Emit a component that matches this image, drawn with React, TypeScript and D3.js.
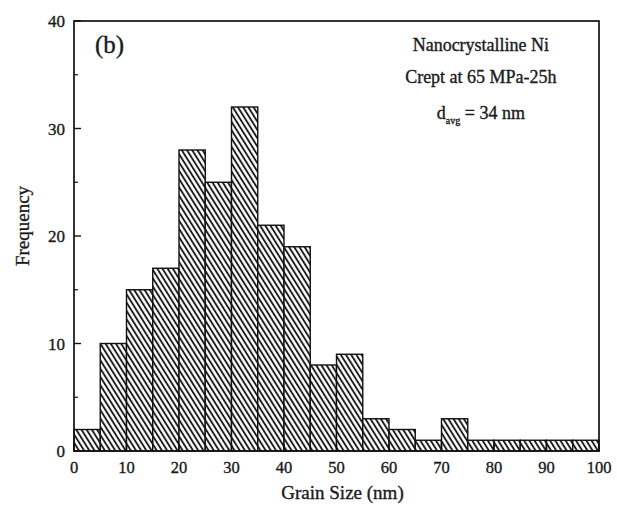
import { useEffect, useRef } from 'react';
import * as d3 from 'd3';

// bin edges (nm) and counts
const binStarts = [0, 5, 10, 15, 20, 25, 30, 35, 40, 45, 50, 55, 60, 65, 70, 75, 80, 85, 90, 95];
const counts = [2, 10, 15, 17, 28, 25, 32, 21, 19, 8, 9, 3, 2, 1, 3, 1, 1, 1, 1, 1];
const binWidth = 5;
const xTicks = [0, 10, 20, 30, 40, 50, 60, 70, 80, 90, 100];
const yTicks = [0, 10, 20, 30, 40];
const yMinor = [5, 15, 25, 35];
const annotation = ['Nanocrystalline Ni', 'Crept at 65 MPa-25h'];

const W = 617;
const H = 508;
const FONT = "'Liberation Serif', 'DejaVu Serif', serif";
const INK = '#1a1a1a';

export default function App() {
    const svgRef = useRef<SVGSVGElement | null>(null);

    useEffect(() => {
        if (!svgRef.current) return;
        const svg = d3.select(svgRef.current);
        svg.selectAll('*').remove();

        const margin = { top: 21, right: 18, bottom: 57, left: 74 };
        const w = W - margin.left - margin.right;
        const h = H - margin.top - margin.bottom;

        const x = d3.scaleLinear().domain([0, 100]).range([0, w]);
        const y = d3.scaleLinear().domain([0, 40]).range([h, 0]);

        // hatch fill
        const defs = svg.append('defs');
        const pat = defs.append('pattern')
            .attr('id', 'hatch')
            .attr('patternUnits', 'userSpaceOnUse')
            .attr('width', 4.4).attr('height', 10)
            .attr('patternTransform', 'rotate(-32)');
        pat.append('rect').attr('width', 4.4).attr('height', 10).attr('fill', '#fff');
        pat.append('line')
            .attr('x1', 1).attr('y1', 0).attr('x2', 1).attr('y2', 10)
            .attr('stroke', '#111').attr('stroke-width', 1.8);

        const g = svg.append('g').attr('transform', `translate(${margin.left},${margin.top})`);

        // bars
        g.selectAll('rect.bar')
            .data(binStarts.map((s, i) => ({ s, c: counts[i] })))
            .join('rect')
            .attr('class', 'bar')
            .attr('x', d => x(d.s))
            .attr('y', d => y(d.c))
            .attr('width', d => x(d.s + binWidth) - x(d.s))
            .attr('height', d => y(0) - y(d.c))
            .attr('fill', 'url(#hatch)')
            .attr('stroke', '#111')
            .attr('stroke-width', 1.4);

        // frame
        g.append('rect')
            .attr('width', w).attr('height', h)
            .attr('fill', 'none').attr('stroke', '#111').attr('stroke-width', 1.7);

        const txt = (sel: any, size: number) => sel
            .style('font-family', FONT).style('font-size', `${size}px`)
            .style('fill', INK).style('stroke', INK).style('stroke-width', '0.35px');

        // y ticks (inward)
        g.selectAll('line.ymaj').data(yTicks).join('line')
            .attr('class', 'ymaj')
            .attr('x1', 0).attr('x2', 7)
            .attr('y1', d => y(d)).attr('y2', d => y(d))
            .attr('stroke', '#111').attr('stroke-width', 1.4);
        g.selectAll('line.ymin').data(yMinor).join('line')
            .attr('class', 'ymin')
            .attr('x1', 0).attr('x2', 4)
            .attr('y1', d => y(d)).attr('y2', d => y(d))
            .attr('stroke', '#111').attr('stroke-width', 1.2);
        txt(g.selectAll('text.ylab').data(yTicks).join('text')
            .attr('class', 'ylab')
            .attr('x', -9).attr('y', d => y(d) + 6)
            .attr('text-anchor', 'end'), 17)
            .text(d => d);

        // x ticks
        g.selectAll('line.xmaj').data(xTicks).join('line')
            .attr('class', 'xmaj')
            .attr('x1', d => x(d)).attr('x2', d => x(d))
            .attr('y1', h).attr('y2', h - 7)
            .attr('stroke', '#111').attr('stroke-width', 1.4);
        txt(g.selectAll('text.xlab').data(xTicks).join('text')
            .attr('class', 'xlab')
            .attr('x', d => x(d)).attr('y', h + 22)
            .attr('text-anchor', 'middle'), 16.5)
            .text(d => d);

        // axis titles
        txt(g.append('text')
            .attr('x', w / 2 + 6).attr('y', h + 48)
            .attr('text-anchor', 'middle'), 19)
            .text('Grain Size (nm)');
        txt(g.append('text')
            .attr('transform', 'rotate(-90)')
            .attr('x', -205).attr('y', -45)
            .attr('text-anchor', 'middle'), 19)
            .text('Frequency');

        // panel label
        txt(g.append('text')
            .attr('x', 21).attr('y', 32), 25)
            .text('(b)');

        // annotation
        const ax = x(77.5);
        annotation.forEach((t, i) => {
            txt(g.append('text')
                .attr('x', ax).attr('y', 30 + i * 32)
                .attr('text-anchor', 'middle'), 18)
                .text(t);
        });
        const dt = txt(g.append('text')
            .attr('x', ax).attr('y', 98)
            .attr('text-anchor', 'middle'), 18);
        dt.append('tspan').text('d');
        dt.append('tspan').attr('dy', 5).style('font-size', '10px').text('avg');
        dt.append('tspan').attr('dy', -5).text(' = 34 nm');
    }, []);

    return <svg ref={svgRef} width={W} height={H} style={{ display: 'block', position: 'absolute', left: 0, top: 0, background: '#fff' }} />;
}
